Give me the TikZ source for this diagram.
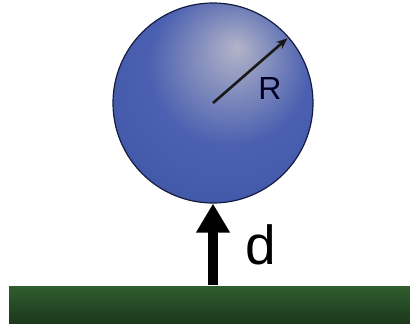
\documentclass[tikz,border=0pt]{standalone}
\usepackage{fontspec}
\setmainfont{Liberation Sans}
\usetikzlibrary{arrows.meta}
\definecolor{hl}{HTML}{B2B4C8}
\definecolor{midblue}{HTML}{4B60B0}
\definecolor{ballblue}{HTML}{3E56A8}
\definecolor{balledge}{HTML}{2C4190}
\definecolor{balloutline}{HTML}{151C40}
\definecolor{gtop}{HTML}{2F5E2F}
\definecolor{gbot}{HTML}{1C381C}
\pgfdeclareradialshading{sphereshade}{\pgfpoint{6bp}{14bp}}{%
  color(0bp)=(hl); color(5bp)=(hl!75!midblue); color(20bp)=(midblue);
  color(38bp)=(ballblue); color(50bp)=(balledge); color(60bp)=(balledge)}
\tikzset{
  ball/.style={circle, minimum size=200pt, inner sep=0pt, shading=sphereshade,
    draw=balloutline, line width=1.2pt},
  ground/.style={rectangle, minimum width=401pt, minimum height=37pt, inner sep=0pt,
    top color=gtop, bottom color=gbot, draw=none},
  bigarrow/.style={line width=10pt, -{Triangle[width=32pt,length=29pt]}},
  radarrow/.style={line width=2.6pt, -{Stealth[length=11pt,width=9pt]}, color=black!90},
  lbl/.style={inner sep=0pt, font=\fontsize{#1}{#1}\selectfont}
}
\begin{document}
\begin{tikzpicture}[x=1pt,y=-1pt]
\useasboundingbox (0,0) rectangle (410,325);
\node[ball] (sphere) at (213,103) {};
\node[ground] (floor) at (209.5,304.5) {};
\draw[bigarrow] (213,285) coordinate (dstart) -- (sphere.south);
\draw[radarrow, shorten >=2pt] (sphere.center) -- (sphere.41.6);
\node[lbl=32pt, text=black!85!blue] (R) at (270,88) {R};
\node[lbl=55pt] (d) at (261,245) {d};
\end{tikzpicture}
\end{document}
